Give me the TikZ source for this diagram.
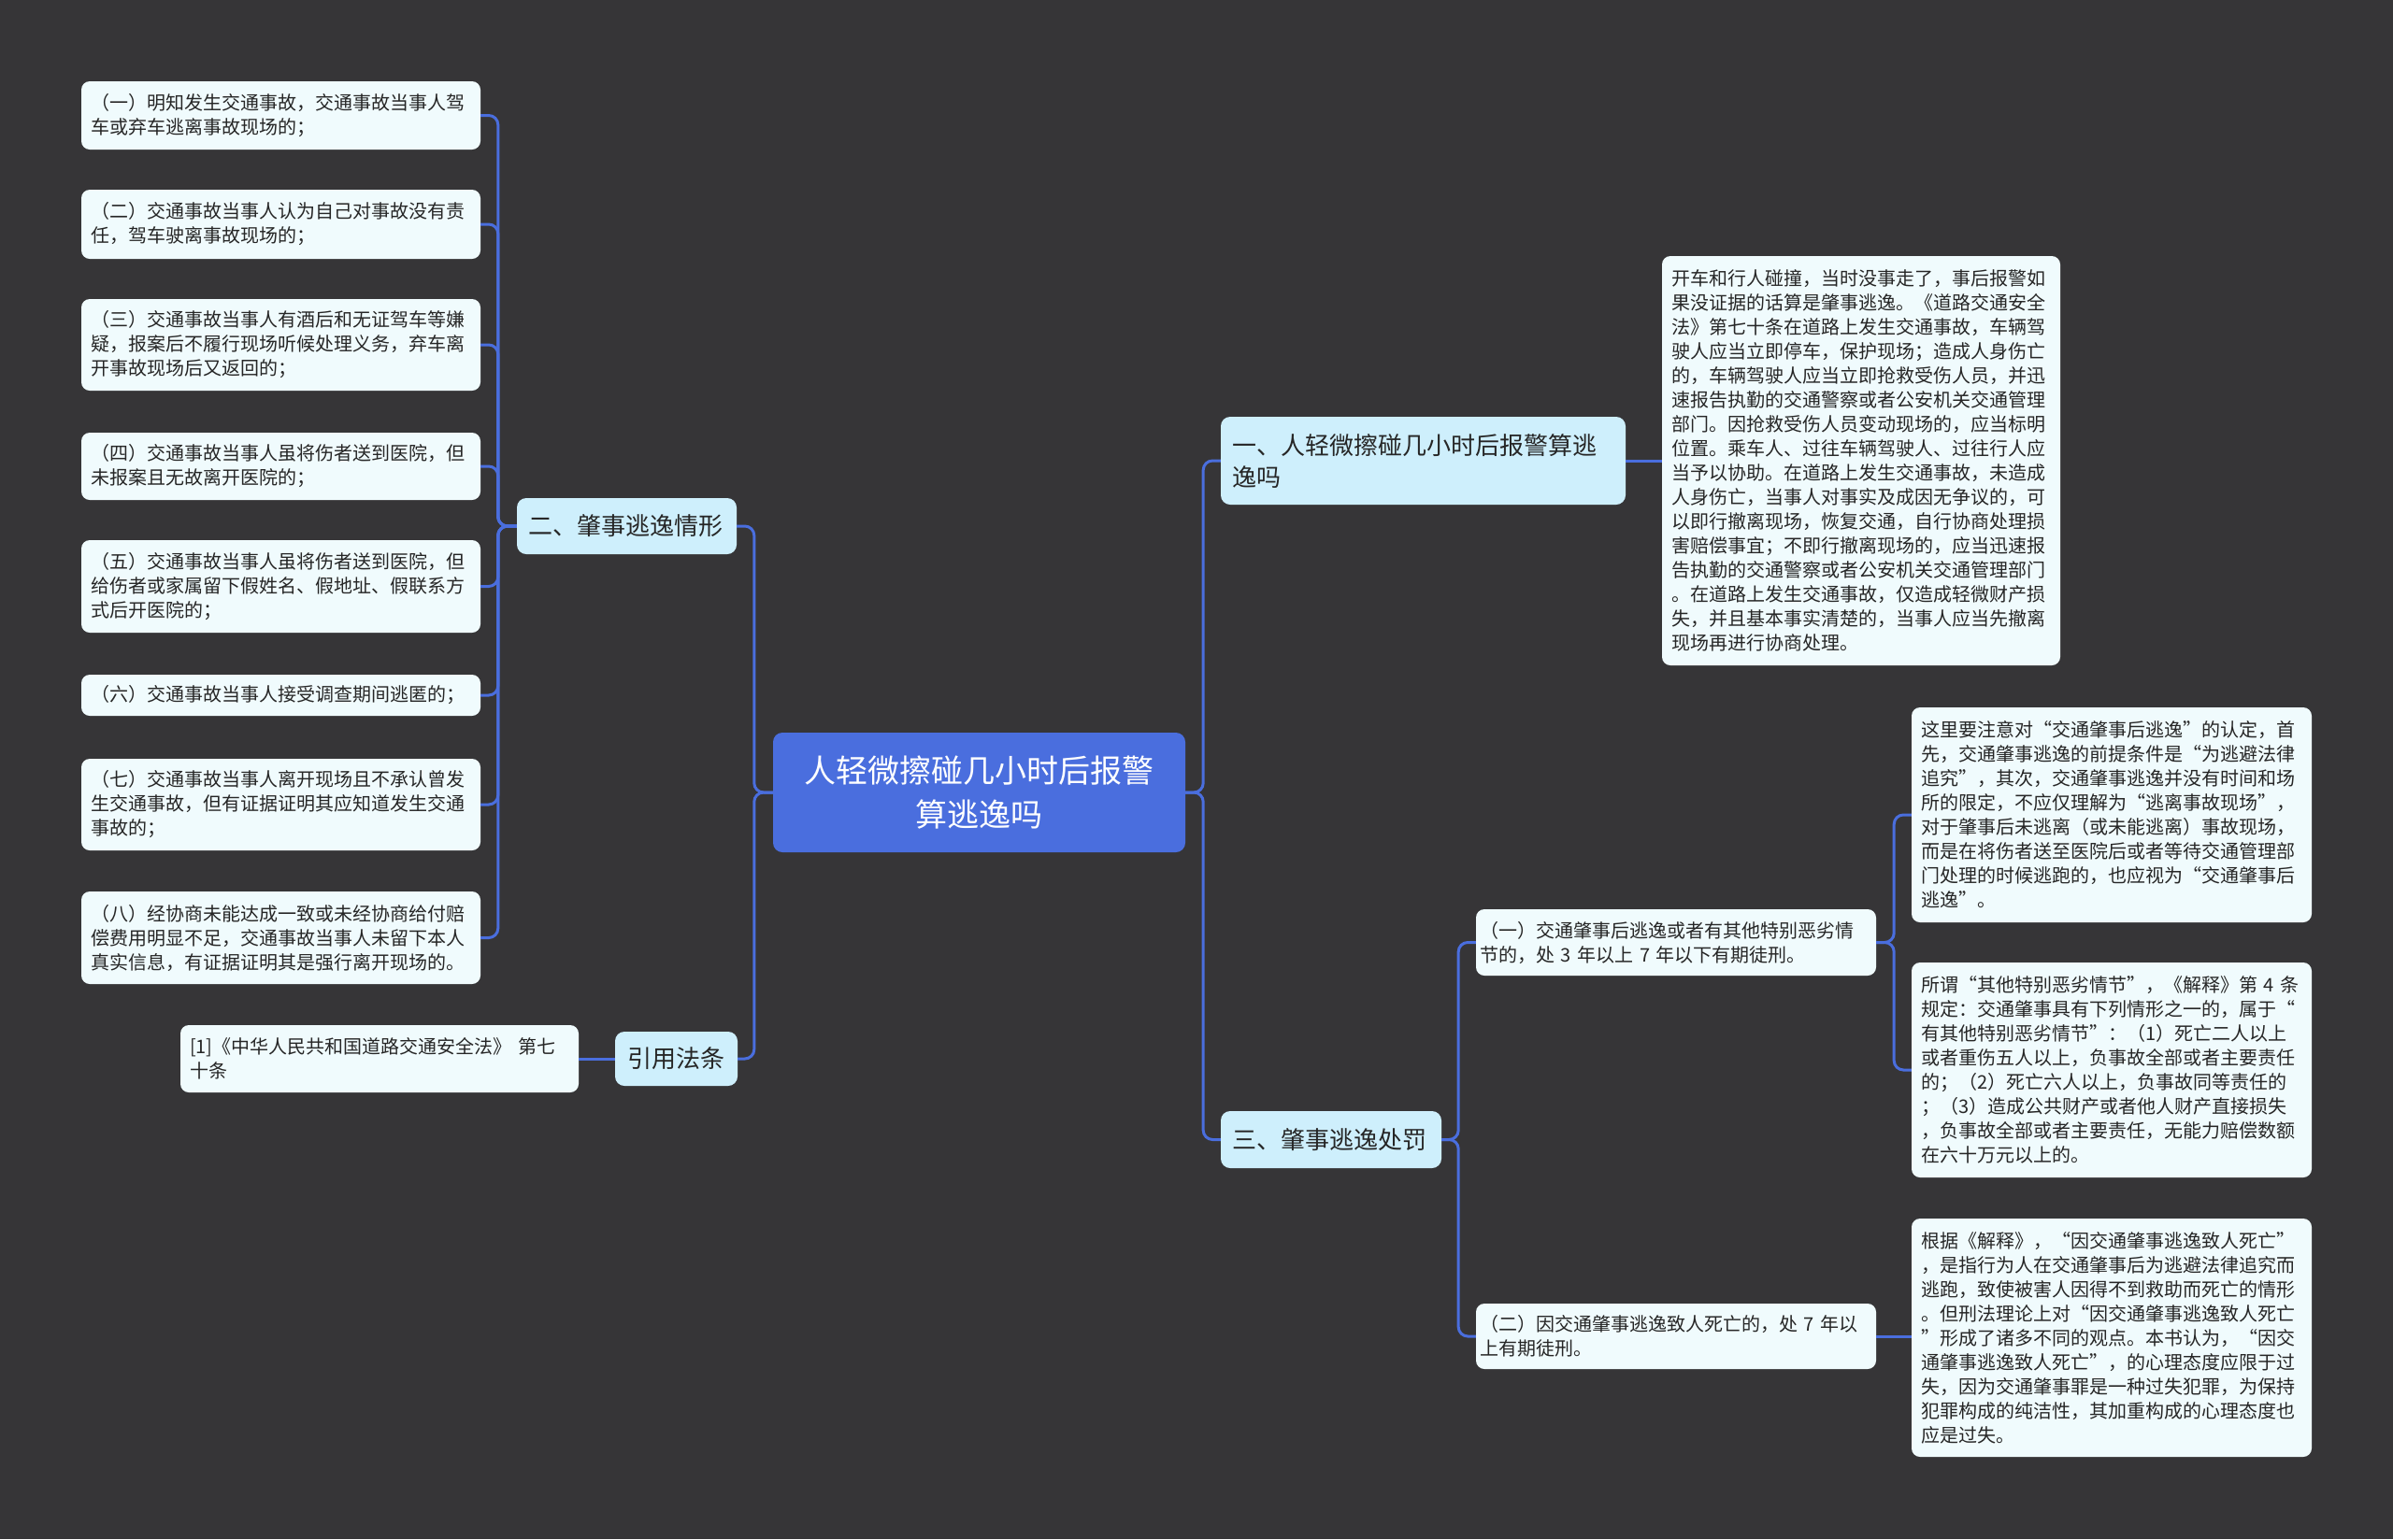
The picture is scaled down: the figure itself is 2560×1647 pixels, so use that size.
\documentclass[tikz,border=0pt]{standalone}
\usepackage{fontspec}
\setmainfont{Noto Sans CJK SC}
\definecolor{bg}{RGB}{54,53,55}
\definecolor{rootfill}{RGB}{74,110,222}
\definecolor{mainfill}{RGB}{206,239,252}
\definecolor{leaffill}{RGB}{240,251,253}
\definecolor{conncol}{RGB}{74,110,222}
\definecolor{txt}{RGB}{38,38,38}
\tikzset{
  rootbox/.style={fill=rootfill, rounded corners=10pt, text=white, align=center,
    font=\fontsize{34}{47}\selectfont, inner sep=0pt},
  mainbox/.style={fill=mainfill, rounded corners=10pt, text=txt, align=left,
    font=\fontsize{26}{34}\selectfont, inner xsep=12pt, inner ysep=0pt},
  leafbox/.style={fill=leaffill, rounded corners=9pt, text=txt, align=left,
    font=\fontsize{20}{26}\selectfont, inner xsep=10pt, inner ysep=0pt},
  conn/.style={draw=conncol, line width=3pt, rounded corners=10pt},
}
\begin{document}
\begin{tikzpicture}[x=1pt,y=-1pt]
\fill[bg] (0,0) rectangle (2560,1647);
\useasboundingbox (0,0) rectangle (2560,1647);

% root
\node[rootbox, minimum width=441pt, minimum height=128pt] (root) at (1047.5,848) {人轻微擦碰几小时后报警\\算逃逸吗};

% left branch: 二
\node[mainbox, minimum width=235pt, minimum height=60pt, text width=211pt] (er) at (670.5,563) {二、肇事逃逸情形};
\node[leafbox, minimum width=427pt, minimum height=73pt, text width=407pt] (L1) at (300.5,123.5) {（一）明知发生交通事故，交通事故当事人驾\\车或弃车逃离事故现场的；};
\node[leafbox, minimum width=427pt, minimum height=74pt, text width=407pt] (L2) at (300.5,240) {（二）交通事故当事人认为自己对事故没有责\\任，驾车驶离事故现场的；};
\node[leafbox, minimum width=427pt, minimum height=98pt, text width=407pt] (L3) at (300.5,369) {（三）交通事故当事人有酒后和无证驾车等嫌\\疑，报案后不履行现场听候处理义务，弃车离\\开事故现场后又返回的；};
\node[leafbox, minimum width=427pt, minimum height=72pt, text width=407pt] (L4) at (300.5,499) {（四）交通事故当事人虽将伤者送到医院，但\\未报案且无故离开医院的；};
\node[leafbox, minimum width=427pt, minimum height=99pt, text width=407pt] (L5) at (300.5,627.5) {（五）交通事故当事人虽将伤者送到医院，但\\给伤者或家属留下假姓名、假地址、假联系方\\式后开医院的；};
\node[leafbox, minimum width=427pt, minimum height=44pt, text width=407pt] (L6) at (300.5,744) {（六）交通事故当事人接受调查期间逃匿的；};
\node[leafbox, minimum width=427pt, minimum height=98pt, text width=407pt] (L7) at (300.5,861) {（七）交通事故当事人离开现场且不承认曾发\\生交通事故，但有证据证明其应知道发生交通\\事故的；};
\node[leafbox, minimum width=427pt, minimum height=99pt, text width=407pt] (L8) at (300.5,1003.5) {（八）经协商未能达成一致或未经协商给付赔\\偿费用明显不足，交通事故当事人未留下本人\\真实信息，有证据证明其是强行离开现场的。};

% left branch: 引用法条
\node[mainbox, minimum width=131pt, minimum height=58pt, text width=107pt, align=center] (yy) at (723.5,1133) {引用法条};
\node[leafbox, minimum width=426pt, minimum height=72pt, text width=406pt] (ref) at (406,1133) {[1]《中华人民共和国道路交通安全法》 第七\\十条};

% right branch: 一
\node[mainbox, minimum width=433pt, minimum height=94pt, text width=409pt] (yi) at (1522.5,493) {一、人轻微擦碰几小时后报警算逃\\逸吗};
\node[leafbox, minimum width=426pt, minimum height=438pt, text width=406pt] (kc) at (1991,493) {开车和行人碰撞，当时没事走了，事后报警如\\果没证据的话算是肇事逃逸。《道路交通安全\\法》第七十条在道路上发生交通事故，车辆驾\\驶人应当立即停车，保护现场；造成人身伤亡\\的，车辆驾驶人应当立即抢救受伤人员，并迅\\速报告执勤的交通警察或者公安机关交通管理\\部门。因抢救受伤人员变动现场的，应当标明\\位置。乘车人、过往车辆驾驶人、过往行人应\\当予以协助。在道路上发生交通事故，未造成\\人身伤亡，当事人对事实及成因无争议的，可\\以即行撤离现场，恢复交通，自行协商处理损\\害赔偿事宜；不即行撤离现场的，应当迅速报\\告执勤的交通警察或者公安机关交通管理部门\\。在道路上发生交通事故，仅造成轻微财产损\\失，并且基本事实清楚的，当事人应当先撤离\\现场再进行协商处理。};

% right branch: 三
\node[mainbox, minimum width=236pt, minimum height=61pt, text width=212pt] (san) at (1424,1219.5) {三、肇事逃逸处罚};
\node[leafbox, minimum width=428pt, minimum height=71pt, text width=420pt, inner xsep=4pt] (p1) at (1793,1008.5) {（一）交通肇事后逃逸或者有其他特别恶劣情\\节的，处 3 年以上 7 年以下有期徒刑。};
\node[leafbox, minimum width=428pt, minimum height=70pt, text width=420pt, inner xsep=4pt] (p2) at (1793,1430) {（二）因交通肇事逃逸致人死亡的，处 7 年以\\上有期徒刑。};
\node[leafbox, minimum width=428pt, minimum height=230pt, text width=408pt] (zl) at (2259,872) {这里要注意对“交通肇事后逃逸”的认定，首\\先，交通肇事逃逸的前提条件是“为逃避法律\\追究”，其次，交通肇事逃逸并没有时间和场\\所的限定，不应仅理解为“逃离事故现场”，\\对于肇事后未逃离（或未能逃离）事故现场，\\而是在将伤者送至医院后或者等待交通管理部\\门处理的时候逃跑的，也应视为“交通肇事后\\逃逸”。};
\node[leafbox, minimum width=428pt, minimum height=230pt, text width=408pt] (sw) at (2259,1145) {所谓“其他特别恶劣情节”，《解释》第 4 条\\规定：交通肇事具有下列情形之一的，属于“\\有其他特别恶劣情节”：（1）死亡二人以上\\或者重伤五人以上，负事故全部或者主要责任\\的；（2）死亡六人以上，负事故同等责任的\\；（3）造成公共财产或者他人财产直接损失\\，负事故全部或者主要责任，无能力赔偿数额\\在六十万元以上的。};
\node[leafbox, minimum width=428pt, minimum height=255pt, text width=408pt] (gj) at (2259,1431.5) {根据《解释》，“因交通肇事逃逸致人死亡”\\，是指行为人在交通肇事后为逃避法律追究而\\逃跑，致使被害人因得不到救助而死亡的情形\\。但刑法理论上对“因交通肇事逃逸致人死亡\\”形成了诸多不同的观点。本书认为，“因交\\通肇事逃逸致人死亡”，的心理态度应限于过\\失，因为交通肇事罪是一种过失犯罪，为保持\\犯罪构成的纯洁性，其加重构成的心理态度也\\应是过失。};

% connectors
\begin{scope}[on background layer/.style={}]
\draw[conn] (root.west) -- ++(-20,0) |- (er.east);
\draw[conn] (root.west) -- ++(-20,0) |- (yy.east);
\draw[conn] (root.east) -- ++(19,0) |- (yi.west);
\draw[conn] (root.east) -- ++(19,0) |- (san.west);
\foreach \n in {L1,L2,L3,L4,L5,L6,L7,L8}{
  \draw[conn] (er.west) -- ++(-20,0) |- (\n.east);
}
\draw[conn] (yy.west) -- (ref.east);
\draw[conn] (yi.east) -- (kc.west);
\draw[conn] (san.east) -- ++(18,0) |- (p1.west);
\draw[conn] (san.east) -- ++(18,0) |- (p2.west);
\draw[conn] (p1.east) -- ++(19,0) |- (zl.west);
\draw[conn] (p1.east) -- ++(19,0) |- (sw.west);
\draw[conn] (p2.east) -- (p2.east -| gj.west);
\end{scope}
\end{tikzpicture}
\end{document}
